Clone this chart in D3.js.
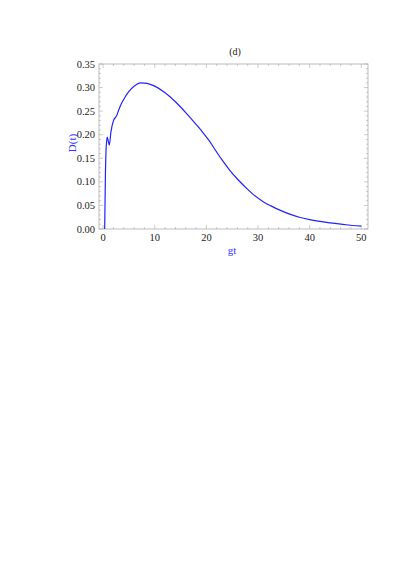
<!DOCTYPE html>
<html><head><meta charset="utf-8">
<script src="https://cdn.jsdelivr.net/npm/d3@7"></script>
<style>body{margin:0;background:#fff}</style>
</head><body>
<div id="chart"></div>
<script>
// values
var gt = [0.3, 0.45, 0.6, 0.8, 1.0, 1.2, 1.5, 2.0, 2.6, 3.0, 3.5, 4.2, 5.0, 6.0, 7.3, 8.5, 10, 12, 14, 16, 18, 19, 20.5, 22, 23, 24.5, 26, 28, 29, 31, 32.5, 34, 36, 38, 40, 42, 44, 47, 50];
var D  = [0.0, 0.12, 0.175, 0.195, 0.186, 0.178, 0.205, 0.23, 0.24, 0.252, 0.265, 0.279, 0.292, 0.303, 0.310, 0.309, 0.303, 0.289, 0.270, 0.247, 0.222, 0.209, 0.188, 0.163, 0.147, 0.125, 0.106, 0.084, 0.074, 0.058, 0.049, 0.041, 0.032, 0.025, 0.020, 0.016, 0.013, 0.009, 0.006];
var xTicks = [0, 10, 20, 30, 40, 50];
var yTicks = [0, 0.05, 0.10, 0.15, 0.20, 0.25, 0.30, 0.35];

var W = 409, H = 577;
var svg = d3.select("#chart").append("svg").attr("width", W).attr("height", H);
var pLeft = 99, pRight = 368, pTop = 64, pBottom = 229;

var x = d3.scaleLinear().domain([-0.8, 51.3]).range([pLeft, pRight]);
var y = d3.scaleLinear().domain([0, 0.35]).range([pBottom, pTop]);

svg.append("rect").attr("x", pLeft).attr("y", pTop).attr("width", pRight - pLeft).attr("height", pBottom - pTop)
  .attr("fill", "none").attr("stroke", "#aaa").attr("stroke-width", 0.8);

var ticks = svg.append("g").attr("stroke", "#aaa").attr("stroke-width", 0.6);
d3.range(0, 51, 2).forEach(function(v) {
  var len = v % 10 === 0 ? 4 : 2;
  ticks.append("line").attr("x1", x(v)).attr("x2", x(v)).attr("y1", pBottom).attr("y2", pBottom - len);
  ticks.append("line").attr("x1", x(v)).attr("x2", x(v)).attr("y1", pTop).attr("y2", pTop + len);
});
d3.range(0, 36).forEach(function(i) {
  var v = i / 100, len = i % 5 === 0 ? 4 : 2;
  ticks.append("line").attr("y1", y(v)).attr("y2", y(v)).attr("x1", pLeft).attr("x2", pLeft + len);
  ticks.append("line").attr("y1", y(v)).attr("y2", y(v)).attr("x1", pRight).attr("x2", pRight - len);
});

var font = "Liberation Serif, Times New Roman, serif";
svg.selectAll(".xl").data(xTicks).enter().append("text")
  .attr("x", function(d) { return x(d); }).attr("y", pBottom + 12)
  .attr("text-anchor", "middle").attr("font-family", font).attr("font-size", 10.5).attr("fill", "#222")
  .text(function(d) { return d; });
svg.selectAll(".yl").data(yTicks).enter().append("text")
  .attr("x", pLeft - 4).attr("y", function(d) { return y(d) + 3.5; })
  .attr("text-anchor", "end").attr("font-family", font).attr("font-size", 10.5).attr("fill", "#222")
  .text(function(d) { return d.toFixed(2); });

svg.append("text").attr("x", 235).attr("y", 55).attr("text-anchor", "middle")
  .attr("font-family", font).attr("font-size", 10).attr("fill", "#222").text("(d)");
svg.append("text").attr("x", 232).attr("y", 254).attr("text-anchor", "middle")
  .attr("font-family", font).attr("font-size", 11).attr("fill", "#3333ff").text("gt");
svg.append("text").attr("transform", "translate(76,143) rotate(-90)").attr("text-anchor", "middle")
  .attr("font-family", font).attr("font-size", 11).attr("fill", "#3333ff").text("D(t)");

var line = d3.line().x(function(d, i) { return x(gt[i]); }).y(function(d) { return y(d); })
  .curve(d3.curveMonotoneX);
svg.append("path").datum(D).attr("d", line).attr("fill", "none")
  .attr("stroke", "#2222ff").attr("stroke-width", 1.2);
</script>
</body></html>
